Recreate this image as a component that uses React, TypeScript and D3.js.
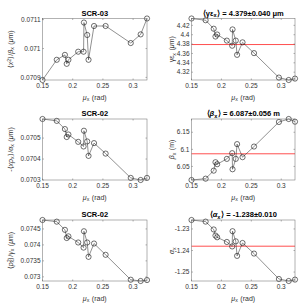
import React from 'react';
import * as d3 from 'd3';

// betatron phase advance (rad), shared by all panels
const MU = [0.150, 0.1736, 0.1871, 0.1901, 0.1929, 0.2091, 0.2180, 0.2186, 0.2240, 0.2262, 0.2353, 0.2545, 0.2961, 0.3125, 0.3230];

const X2_BETA = [0.070891, 0.070961, 0.070978, 0.070947, 0.070961, 0.070989, 0.070989, 0.07109, 0.071047, 0.070961, 0.071078, 0.071078, 0.071019, 0.071049, 0.071104];
const GAMMA_EPS = [4.4346, 4.4309, 4.4128, 4.3961, 4.4004, 4.3874, 4.3765, 4.4113, 4.3874, 4.357, 4.3837, 4.3607, 4.3085, 4.3033, 4.3063];
const XP_ALPHA = [0.070591, 0.070582, 0.070543, 0.070505, 0.070517, 0.070482, 0.07046, 0.070535, 0.070484, 0.070415, 0.070476, 0.070426, 0.07031, 0.0703, 0.07031];
const BETA = [6.0103, 6.0142, 6.0377, 6.0623, 6.0565, 6.0721, 6.0888, 6.0417, 6.0721, 6.1153, 6.0771, 6.1082, 6.18, 6.1888, 6.1809];
const P2_GAMMA = [0.074779, 0.074727, 0.074471, 0.074215, 0.074267, 0.074075, 0.073915, 0.074427, 0.074075, 0.073626, 0.074043, 0.07369, 0.07291, 0.07287, 0.0729];
const ALPHA = [-1.22585, -1.2266, -1.23024, -1.23307, -1.23387, -1.23604, -1.23811, -1.23104, -1.23575, -1.2425, -1.23651, -1.24142, -1.25321, -1.25415, -1.2535];

const X_TICKS = [0.15, 0.2, 0.25, 0.3];
const MEAN_GAMMA_EPS = 4.379;
const MEAN_BETA = 6.087;
const MEAN_ALPHA = -1.238;

const FONT = '"Liberation Sans", Arial, sans-serif';
const fmt = (v: number) => String(+v.toPrecision(6));

const sub = (s: string) => [
  <tspan key="a" dy={1.6} fontSize="0.75em">{s}</tspan>,
  <tspan key="b" dy={-1.6}>{'\u200A'}</tspan>,
];

interface PanelProps {
  x0: number; x1: number; y0: number; y1: number;
  values: number[];
  yTicks: number[];
  title: React.ReactNode;
  yLabel: React.ReactNode;
  labelX: number;
  mean?: number;
}

function Panel({ x0, x1, y0, y1, values, yTicks, title, yLabel, labelX, mean }: PanelProps) {
  const x = d3.scaleLinear().domain(d3.extent(MU) as [number, number]).range([x0, x1]);
  const y = d3.scaleLinear().domain(d3.extent(values) as [number, number]).range([y1, y0]);
  const line = d3.line<number>().x((_, i) => x(MU[i])).y(d => y(d));
  const tk = 1.5;
  return (
    <g fontFamily={FONT}>
      {mean !== undefined && (
        <line x1={x0} x2={x1} y1={y(mean)} y2={y(mean)} stroke="#ff3b3b" strokeWidth={0.9} />
      )}
      <path d={line(values) || ''} fill="none" stroke="#222" strokeWidth={0.5} />
      {values.map((v, i) => (
        <circle key={i} cx={x(MU[i])} cy={y(v)} r={2.6} fill="none" stroke="#111" strokeWidth={0.6} />
      ))}
      <rect x={x0} y={y0} width={x1 - x0} height={y1 - y0} fill="none" stroke="#666" strokeWidth={0.5} />
      {X_TICKS.map(t => (
        <g key={t}>
          <line x1={x(t)} x2={x(t)} y1={y1} y2={y1 - tk} stroke="#666" strokeWidth={0.5} />
          <line x1={x(t)} x2={x(t)} y1={y0} y2={y0 + tk} stroke="#666" strokeWidth={0.5} />
          <text x={x(t)} y={y1 + 8} fontSize={6.5} fill="#333" textAnchor="middle">{fmt(t)}</text>
        </g>
      ))}
      {yTicks.map(t => (
        <g key={t}>
          <line x1={x0} x2={x0 + tk} y1={y(t)} y2={y(t)} stroke="#666" strokeWidth={0.5} />
          <line x1={x1} x2={x1 - tk} y1={y(t)} y2={y(t)} stroke="#666" strokeWidth={0.5} />
          <text x={x0 - 2} y={y(t) + 2.2} fontSize={6.5} fill="#333" textAnchor="end">{fmt(t)}</text>
        </g>
      ))}
      <text x={(x0 + x1) / 2} y={y0 - 3} fontSize={7.5} fontWeight="bold" textAnchor="middle" fill="#000">{title}</text>
      <text x={(x0 + x1) / 2} y={y1 + 19.5} fontSize={7} textAnchor="middle" fill="#333">
        <tspan fontStyle="italic">μ</tspan>{sub('x')}<tspan> (rad)</tspan>
      </text>
      <text transform={`translate(${labelX},${(y0 + y1) / 2}) rotate(-90)`} fontSize={7} textAnchor="middle" fill="#333">
        {yLabel}
      </text>
    </g>
  );
}

export default function App() {
  const L = [42.5, 147];
  const R = [191.5, 295];
  const rows = [[18.5, 80], [119, 180], [220, 281]];
  return (
    <svg width={299} height={307} style={{ position: 'absolute', left: 0, top: 0, background: '#fff' }}>
      <Panel x0={L[0]} x1={L[1]} y0={rows[0][0]} y1={rows[0][1]} values={X2_BETA}
        yTicks={[0.0709, 0.071, 0.0711]} title="SCR-03" labelX={12.5}
        yLabel={<>⟨<tspan fontStyle="italic">x</tspan><tspan dy={-2} fontSize="0.75em">2</tspan><tspan dy={2}>⟩/</tspan><tspan fontStyle="italic">β</tspan>{sub('x')}<tspan> (</tspan><tspan fontStyle="italic">μ</tspan>m)</>} />
      <Panel x0={R[0]} x1={R[1]} y0={rows[0][0]} y1={rows[0][1]} values={GAMMA_EPS} mean={MEAN_GAMMA_EPS}
        yTicks={[4.32, 4.34, 4.36, 4.38, 4.4, 4.42]} labelX={174}
        title={<>⟨γε{sub('x')}⟩ = 4.379±0.040 μm</>}
        yLabel={<>γε{sub('x')}<tspan> (</tspan><tspan fontStyle="italic">μ</tspan>m)</>} />
      <Panel x0={L[0]} x1={L[1]} y0={rows[1][0]} y1={rows[1][1]} values={XP_ALPHA}
        yTicks={[0.0703, 0.0704, 0.0705]} title="SCR-02" labelX={12.5}
        yLabel={<>-⟨<tspan fontStyle="italic">xp</tspan>{sub('x')}⟩/<tspan fontStyle="italic">α</tspan>{sub('x')}<tspan> (</tspan><tspan fontStyle="italic">μ</tspan>m)</>} />
      <Panel x0={R[0]} x1={R[1]} y0={rows[1][0]} y1={rows[1][1]} values={BETA} mean={MEAN_BETA}
        yTicks={[6.05, 6.1, 6.15]} labelX={174}
        title={<>⟨<tspan fontStyle="italic">β</tspan>{sub('x')}⟩ = 6.087±0.056 m</>}
        yLabel={<><tspan fontStyle="italic">β</tspan>{sub('x')}<tspan> (m)</tspan></>} />
      <Panel x0={L[0]} x1={L[1]} y0={rows[2][0]} y1={rows[2][1]} values={P2_GAMMA}
        yTicks={[0.073, 0.0735, 0.074, 0.0745]} title="SCR-02" labelX={12.5}
        yLabel={<>⟨<tspan fontStyle="italic">p</tspan><tspan dy={-2} fontSize="0.75em">2</tspan><tspan dx={-3} dy={3.6} fontSize="0.75em">x</tspan><tspan dy={-1.6}>⟩/</tspan><tspan fontStyle="italic">γ</tspan>{sub('x')}<tspan> (</tspan><tspan fontStyle="italic">μ</tspan>m)</>} />
      <Panel x0={R[0]} x1={R[1]} y0={rows[2][0]} y1={rows[2][1]} values={ALPHA} mean={MEAN_ALPHA}
        yTicks={[-1.25, -1.24, -1.23]} labelX={174}
        title={<>⟨<tspan fontStyle="italic">α</tspan>{sub('x')}⟩ = -1.238±0.010</>}
        yLabel={<><tspan fontStyle="italic">α</tspan>{sub('x')}</>} />
    </svg>
  );
}
